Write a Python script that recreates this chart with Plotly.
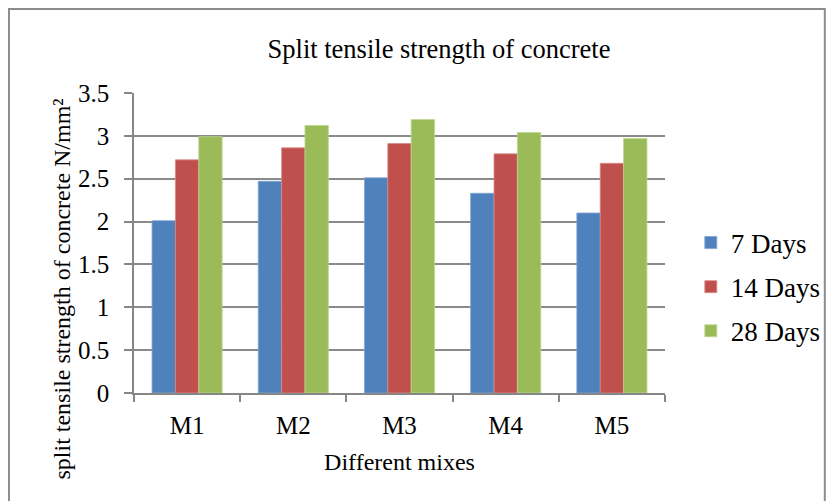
import plotly.graph_objects as go

categories = ["M1", "M2", "M3", "M4", "M5"]
series_names = ["7 Days", "14 Days", "28 Days"]
days7 = [2.01, 2.47, 2.51, 2.33, 2.10]
days14 = [2.72, 2.86, 2.91, 2.79, 2.68]
days28 = [2.99, 3.12, 3.19, 3.04, 2.97]
y_ticks = [0, 0.5, 1, 1.5, 2, 2.5, 3, 3.5]
y_tick_labels = ["0", "0.5", "1", "1.5", "2", "2.5", "3", "3.5"]

colors = ["#4F81BD", "#C0504D", "#9BBB59"]
edge = ["#7FA3D4", "#D98A88", "#BDD58F"]
FONT = "Liberation Serif"

OFF = 8  # page body margin
W, H = 838 - OFF, 501 - OFF
L, R, T, B = 134 - OFF, 169, 93 - OFF, 108
pw, ph = W - L - R, H - T - B

def px(x):
    return (x - OFF - L) / pw

def py(y):
    return (H - B - (y - OFF)) / ph

fig = go.Figure()
for name, vals, c, e in zip(series_names, [days7, days14, days28], colors, edge):
    fig.add_trace(go.Bar(
        x=categories, y=vals, name=name, legendgroup=name,
        marker=dict(color=c, line=dict(color=e, width=0.8)),
    ))

fig.update_layout(
    width=W, height=H, autosize=False,
    margin=dict(l=L, r=R, t=T, b=B),
    paper_bgcolor="white", plot_bgcolor="white",
    font=dict(family=FONT, color="black"),
    barmode="group", bargap=0.34, bargroupgap=0,
    title=dict(text="Split tensile strength of concrete", x=(439 - OFF) / W, xanchor="center",
               y=1 - (49 - OFF) / H, yanchor="middle", font=dict(size=26.5, family=FONT)),
    legend=dict(x=px(695), xanchor="left", y=py(287), yanchor="middle",
                font=dict(size=27, family=FONT), tracegroupgap=6,
                bgcolor="rgba(0,0,0,0)", itemclick=False),
    showlegend=True,
)

fig.update_xaxes(
    type="category", tickson="boundaries", ticks="outside", ticklen=7,
    tickcolor="#868686", tickwidth=1.5, showline=True, linecolor="#868686", linewidth=1.5,
    tickfont=dict(size=25, family=FONT), showgrid=False, ticklabelstandoff=9,
    title=dict(text="Different mixes", font=dict(size=24, family=FONT), standoff=15),
)
fig.update_yaxes(
    range=[0, 3.5], tickvals=y_ticks, ticktext=y_tick_labels,
    ticks="outside", ticklen=8, tickcolor="#868686", tickwidth=1.5,
    showline=True, linecolor="#868686", linewidth=1.5,
    showgrid=True, gridcolor="#8a8a8a", gridwidth=1.5, zeroline=False,
    tickfont=dict(size=25, family=FONT), ticklabelstandoff=10,
)

fig.add_annotation(
    text="split tensile strength of concrete N/mm²", textangle=-90,
    xref="paper", yref="paper", x=px(61), y=py(289), xanchor="center", yanchor="middle",
    showarrow=False, font=dict(size=24, family=FONT, color="black"),
)

fig.add_shape(type="rect", xref="paper", yref="paper",
              x0=px(8), x1=px(830), y0=py(520), y1=py(9),
              line=dict(color="#8c8c8c", width=2), fillcolor="rgba(0,0,0,0)", layer="below")

fig.write_html("out.html")
